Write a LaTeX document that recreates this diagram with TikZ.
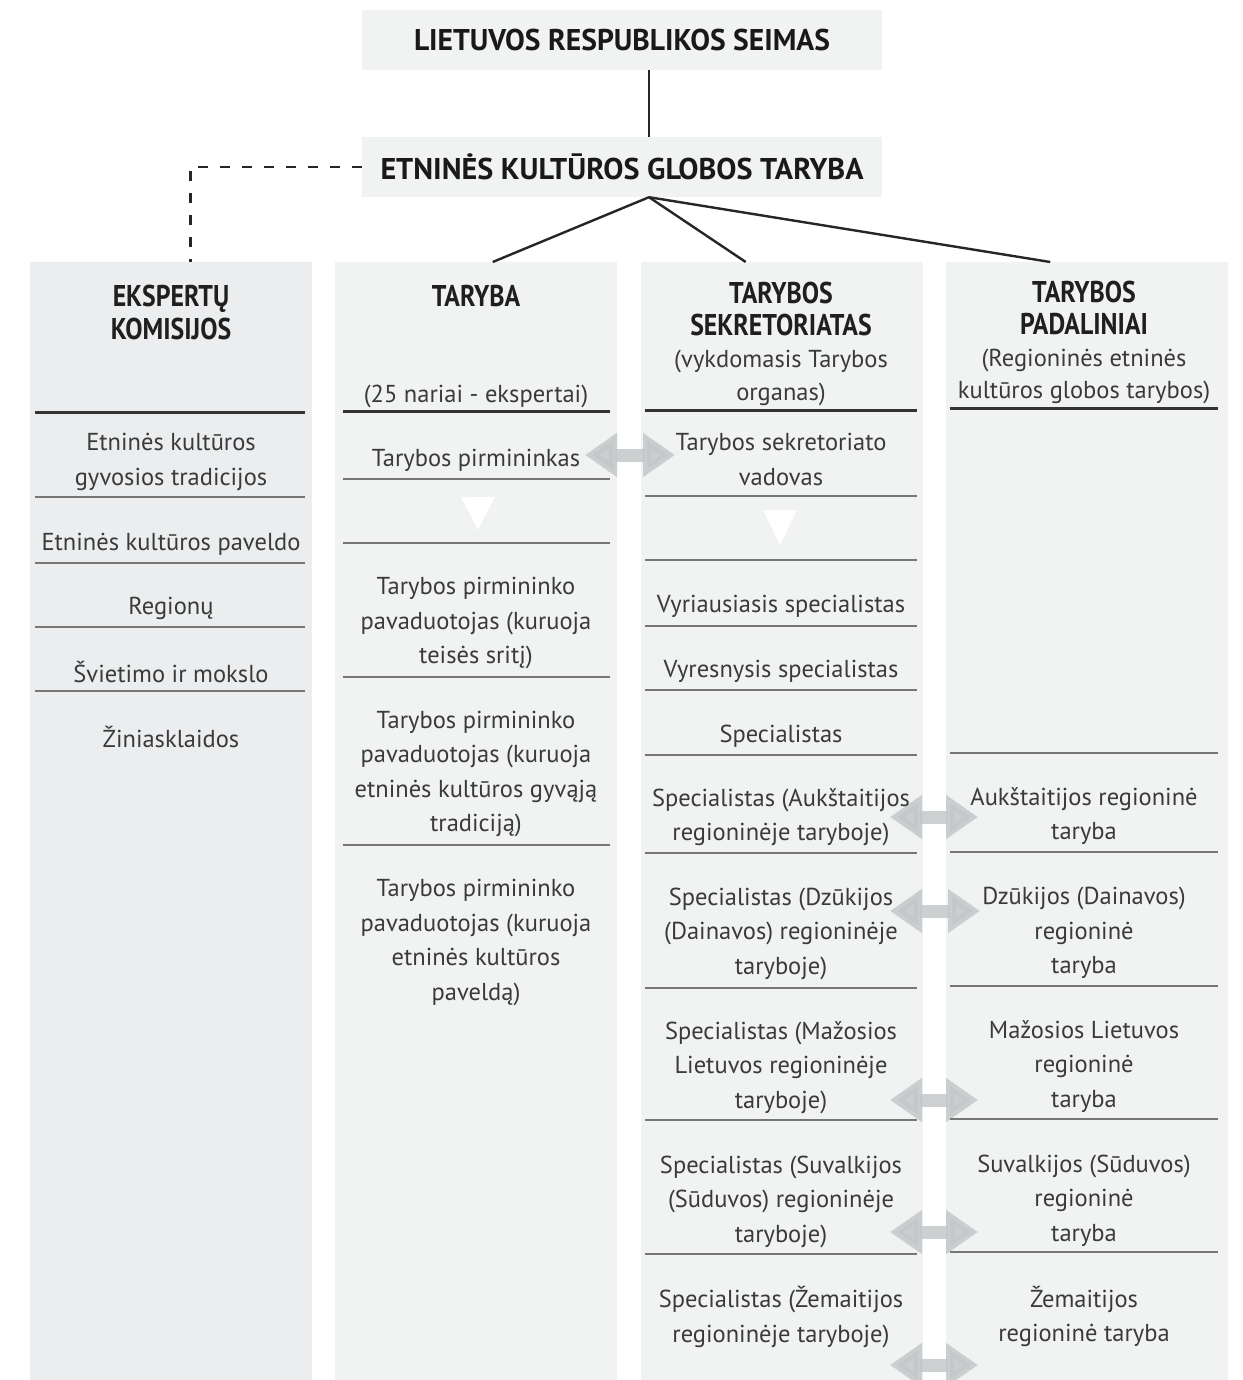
\documentclass[tikz,border=0pt]{standalone}
\usepackage{fontspec}
\setmainfont{PT Sans}
\usepackage{graphicx}
\usetikzlibrary{arrows.meta}

\definecolor{colbg}{HTML}{F1F2F2}
\definecolor{colbgA}{HTML}{EBEDEF}
\definecolor{boxbg}{HTML}{F1F2F2}
\definecolor{txt}{HTML}{3A3A3A}
\definecolor{sepc}{HTML}{767676}
\definecolor{arrc}{HTML}{C4C8CA}

\newcommand\bodyfont{\fontsize{24.5}{34.5}\selectfont}
\newcommand\subfont{\fontsize{24.5}{32.5}\selectfont}
\newcommand\headfont{\fontsize{30}{32.5}\selectfont\bfseries}
\newcommand\hd[1]{\scalebox{0.86}[1]{\begin{tabular}{@{}c@{}}#1\end{tabular}}}
\newcommand\wide[2]{\resizebox{#1}{\height}{#2}}

\tikzset{
  topbox/.style={fill=boxbg, minimum width=520, minimum height=60, inner sep=0,
                 font=\fontsize{30}{32}\selectfont\bfseries, text=black!90},
  colbox/.style={fill=colbg, minimum width=282, minimum height=1118,
                 anchor=north west, inner sep=0},
  cell/.style={align=center, font=\bodyfont, text=txt, inner sep=0},
  subcell/.style={align=center, font=\subfont, text=txt, inner sep=0},
  headcell/.style={align=center, font=\headfont, text=black!88, inner sep=0},
  sepline/.style={draw=sepc, line width=1.3pt},
  hsepline/.style={draw=black!80, line width=3pt},
  link/.style={draw=black!85, line width=2.4pt},
  dashlink/.style={draw=black!85, line width=2.6pt, dash pattern=on 10pt off 12pt},
  dblarrow/.style={draw=arrc, opacity=0.85, line width=13pt,
                   {Triangle[length=32pt,width=42pt]}-{Triangle[length=32pt,width=42pt]}},
  tri/.style={fill=white}
}

\begin{document}
\begin{tikzpicture}[x=1pt,y=-1pt]
\useasboundingbox (0,0) rectangle (1242,1380);
\fill[white] (0,0) rectangle (1242,1380);

% ---------- top of the hierarchy ----------
\node[topbox] (seimas) at (622,40) {\wide{416pt}{LIETUVOS RESPUBLIKOS SEIMAS}};
\node[topbox] (ekgt) at (622,167) {\wide{483pt}{ETNINĖS KULTŪROS GLOBOS TARYBA}};
\coordinate (spine) at (649,0);

% ---------- four columns ----------
\node[colbox, fill=colbgA] (col1) at (30,262) {};
\node[colbox] (col2) at (335,262) {};
\node[colbox] (col3) at (641,262) {};
\node[colbox] (col4) at (946,262) {};

% ---------- connectors ----------
\draw[link] (seimas.south -| spine) -- (ekgt.north -| spine);
\coordinate (apex) at (ekgt.south -| spine);
\draw[link] (apex) -- ([xshift=16.5pt]col2.north);
\draw[link] (apex) -- ([xshift=-36.5pt]col3.north);
\draw[link] (apex) -- ([xshift=-37pt]col4.north);
\draw[dashlink] (ekgt.west) -| ([xshift=19pt]col1.north);

% ---------- grey two-way arrows ----------
\coordinate (aL0) at (585,455);  \coordinate (aR0) at (675,455);
\coordinate (aL1) at (890,817);  \coordinate (aR1) at (978,817);
\coordinate (aL2) at (890,911);  \coordinate (aR2) at (980,911);
\coordinate (aL3) at (890,1100); \coordinate (aR3) at (978,1100);
\coordinate (aL4) at (890,1232); \coordinate (aR4) at (978,1232);
\coordinate (aL5) at (890,1365); \coordinate (aR5) at (978,1365);
\foreach \i in {0,...,5}{\draw[dblarrow] (aL\i) -- (aR\i);}

% ---------- white down triangles ----------
\fill[tri] (461,497) -- (495,497) -- (478,530) -- cycle;
\fill[tri] (763,510) -- (797,510) -- (780,545) -- cycle;

% ---------- column 1: expert commissions ----------
\node[headcell] (h1) at (171,316.5) {\hd{EKSPERTŲ\\KOMISIJOS}};
\draw[hsepline] (35,412) -- (305,412);
\node[cell] (e1) at (171,462) {Etninės kultūros\\gyvosios tradicijos};
\draw[sepline] (35,497) -- (305,497);
\node[cell] (e2) at (171,544) {Etninės kultūros paveldo};
\draw[sepline] (35,563) -- (305,563);
\node[cell] (e3) at (171,608) {Regionų};
\draw[sepline] (35,627) -- (305,627);
\node[cell] (e4) at (171,672) {Švietimo ir mokslo};
\draw[sepline] (35,691) -- (305,691);
\node[cell] (e5) at (171,737) {Žiniasklaidos};

% ---------- column 2: council ----------
\node[headcell] (h2) at (476,300) {\hd{TARYBA}};
\node[cell] (h2s) at (476,396) {(25 nariai - ekspertai)};
\draw[hsepline] (343,411) -- (610,411);
\node[cell] (t1) at (476,460) {Tarybos pirmininkas};
\draw[sepline] (343,479) -- (610,479);
\draw[sepline] (343,543) -- (610,543);
\node[cell] (t2) at (476,623.5) {Tarybos pirmininko\\pavaduotojas (kuruoja\\teisės sritį)};
\draw[sepline] (343,677) -- (610,677);
\node[cell] (t3) at (476,774) {Tarybos pirmininko\\pavaduotojas (kuruoja\\etninės kultūros gyvąją\\tradiciją)};
\draw[sepline] (343,845) -- (610,845);
\node[cell] (t4) at (476,942.5) {Tarybos pirmininko\\pavaduotojas (kuruoja\\etninės kultūros\\paveldą)};

% ---------- column 3: secretariat ----------
\node[headcell] (h3) at (781,313) {\hd{TARYBOS\\SEKRETORIATAS}};
\node[subcell] (h3s) at (781,378) {(vykdomasis Tarybos\\organas)};
\draw[hsepline] (645,410) -- (917,410);
\node[cell] (s1) at (781,459.5) {Tarybos sekretoriato\\vadovas};
\draw[sepline] (645,496) -- (917,496);
\draw[sepline] (645,560) -- (917,560);
\node[cell] (s2) at (781,606) {Vyriausiasis specialistas};
\draw[sepline] (645,626) -- (917,626);
\node[cell] (s3) at (781,671) {Vyresnysis specialistas};
\draw[sepline] (645,690) -- (917,690);
\node[cell] (s4) at (781,736) {Specialistas};
\draw[sepline] (645,755) -- (917,755);
\node[cell] (s5) at (781,817) {Specialistas (Aukštaitijos\\regioninėje taryboje)};
\draw[sepline] (645,853) -- (917,853);
\node[cell] (s6) at (781,933.5) {Specialistas (Dzūkijos\\(Dainavos) regioninėje\\taryboje)};
\draw[sepline] (645,988) -- (917,988);
\node[cell] (s7) at (781,1067.5) {Specialistas (Mažosios\\Lietuvos regioninėje\\taryboje)};
\draw[sepline] (645,1120) -- (917,1120);
\node[cell] (s8) at (781,1201.5) {Specialistas (Suvalkijos\\(Sūduvos) regioninėje\\taryboje)};
\draw[sepline] (645,1254) -- (917,1254);
\node[cell] (s9) at (781,1317) {Specialistas (Žemaitijos\\regioninėje taryboje)};

% ---------- column 4: regional councils ----------
\node[headcell] (h4) at (1084,312) {\hd{TARYBOS\\PADALINIAI}};
\node[subcell] (h4s) at (1084,376.5) {(Regioninės etninės\\kultūros globos tarybos)};
\draw[hsepline] (950,408) -- (1218,408);
\draw[sepline] (950,753) -- (1218,753);
\node[cell] (r1) at (1084,816) {Aukštaitijos regioninė\\taryba};
\draw[sepline] (950,852) -- (1218,852);
\node[cell] (r2) at (1084,933) {Dzūkijos (Dainavos)\\regioninė\\taryba};
\draw[sepline] (950,986) -- (1218,986);
\node[cell] (r3) at (1084,1066.5) {Mažosios Lietuvos\\regioninė\\taryba};
\draw[sepline] (950,1119) -- (1218,1119);
\node[cell] (r4) at (1084,1200.5) {Suvalkijos (Sūduvos)\\regioninė\\taryba};
\draw[sepline] (950,1252) -- (1218,1252);
\node[cell] (r5) at (1084,1316.5) {Žemaitijos\\regioninė taryba};
\end{tikzpicture}
\end{document}
